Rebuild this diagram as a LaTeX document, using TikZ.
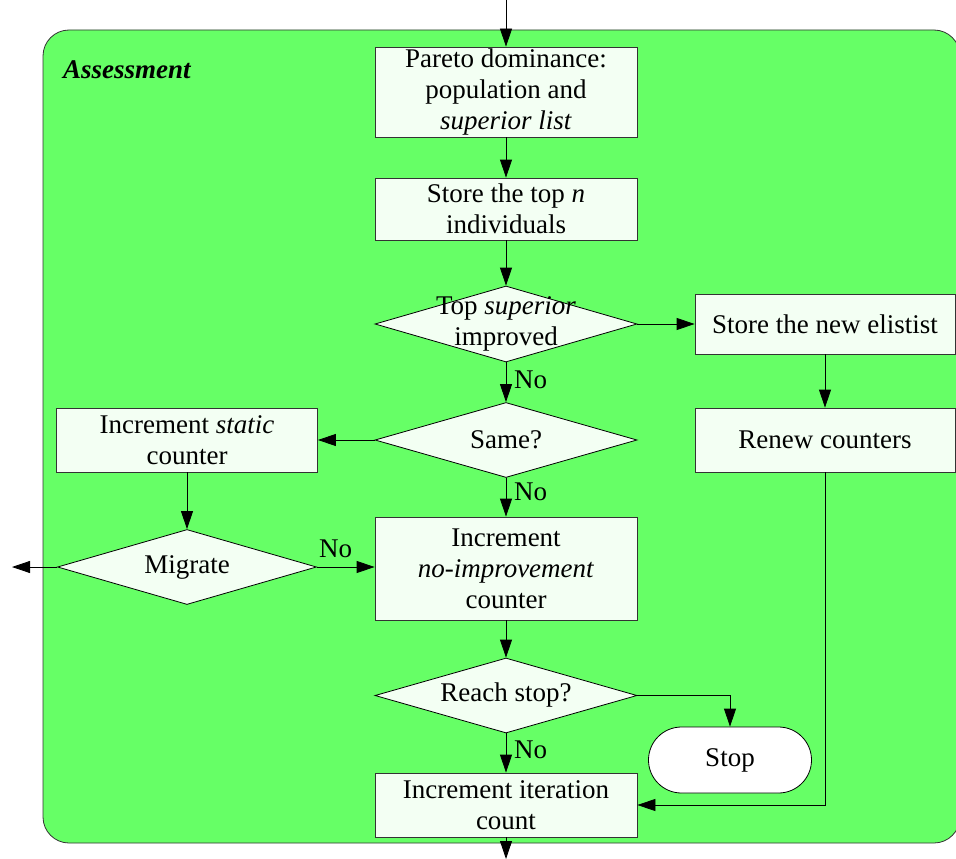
\documentclass[tikz,border=0pt]{standalone}
\usepackage{fontspec}
\setmainfont{Liberation Serif}
\usetikzlibrary{shapes.geometric,arrows.meta}
\definecolor{bggreen}{HTML}{66FF66}
\definecolor{boxfill}{HTML}{F3FFF3}
\definecolor{edge}{HTML}{333333}
\tikzset{
  fnt/.style={font=\fontsize{27}{31}\selectfont},
  procbox/.style={fnt, draw=edge, line width=0.8pt, fill=boxfill, align=center, inner sep=0pt},
  decision/.style={shape=diamond, draw=black, line width=0.8pt, fill=boxfill, inner sep=0pt, minimum width=262pt},
  dlabel/.style={fnt, align=center, inner sep=0pt},
  conn/.style={draw=black, line width=0.8pt, -{Triangle[length=18pt,width=12pt]}},
  nolab/.style={fnt, anchor=west, inner sep=0pt}
}
\begin{document}
\begin{tikzpicture}[x=1pt,y=-1pt]
\useasboundingbox (0,0) rectangle (956,859);
\draw[draw=edge, line width=0.8pt, fill=bggreen, rounded corners=26pt] (43,30) rectangle (960,843);
\node[font=\fontsize{27}{31}\selectfont\bfseries\itshape, anchor=west, inner sep=0pt] (title) at (63,70) {Assessment};

\coordinate (topin) at (506,0);
\coordinate (botout) at (506,859);
\coordinate (leftout) at (12,567);

\node[procbox, minimum width=262pt, minimum height=90pt] (pareto) at (506,92) {Pareto dominance:\\population and\\\textit{superior list}};
\node[procbox, minimum width=262pt, minimum height=62pt] (store) at (506,209) {Store the top \textit{n}\\individuals};
\node[decision, minimum height=76pt] (d1) at (506,324) {};
\node[dlabel] (d1t) at (506,324) {Top \textit{superior}\\improved};
\node[procbox, minimum width=260pt, minimum height=60pt] (elit) at (825,324) {Store the new elistist};
\node[decision, minimum height=75pt] (d2) at (506,440) {};
\node[dlabel] (d2t) at (506,440) {Same?};
\node[procbox, minimum width=261pt, minimum height=64pt] (static) at (187,440) {Increment \textit{static}\\counter};
\node[procbox, minimum width=260pt, minimum height=64pt] (renew) at (825,440) {Renew counters};
\node[decision, minimum width=259pt, minimum height=75pt] (mig) at (187,567) {};
\node[dlabel] (migt) at (187,567) {Migrate};
\node[procbox, minimum width=262pt, minimum height=103pt] (noimp) at (506,568.5) {Increment\\\textit{no-improvement}\\counter};
\node[decision, minimum height=75pt] (reach) at (506,695.5) {};
\node[dlabel] (reacht) at (506,695.5) {Reach stop?};
\node[fnt, draw=black, line width=0.8pt, fill=white, minimum width=163pt, minimum height=66pt, rounded corners=33pt, inner sep=0pt] (stop) at (730,760) {Stop};
\node[procbox, minimum width=262pt, minimum height=64pt] (iter) at (506,805) {Increment iteration\\count};

\draw[conn] (topin) -- (pareto.north);
\draw[conn] (pareto.south) -- (store.north);
\draw[conn] (store.south) -- (d1.north);
\draw[conn] (d1.east) -- (elit.west);
\draw[conn] (elit.south) -- (renew.north);
\draw[conn] (d1.south) -- (d2.north);
\draw[conn] (d2.west) -- (static.east);
\draw[conn] (d2.south) -- (noimp.north);
\draw[conn] (static.south) -- (mig.north);
\draw[conn] (mig.east) -- (noimp.west |- mig.east);
\draw[conn] (mig.west) -- (leftout);
\draw[conn] (noimp.south) -- (reach.north);
\draw[conn] (reach.east) -| (stop.north);
\draw[conn] (reach.south) -- (iter.north);
\draw[conn] (renew.south) |- (iter.east);
\draw[conn] (iter.south) -- (botout);

\node[nolab] (no1) at (514,380) {No};
\node[nolab] (no2) at (514,492) {No};
\node[nolab] (no3) at (319,549) {No};
\node[nolab] (no4) at (514,750) {No};
\end{tikzpicture}
\end{document}
